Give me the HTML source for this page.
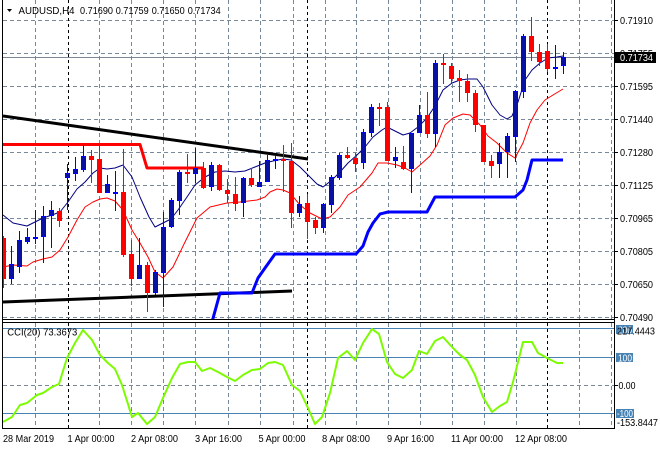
<!DOCTYPE html>
<html><head><meta charset="utf-8"><style>
html,body{margin:0;padding:0;background:#fff;}
svg{display:block;}
text{font-family:"Liberation Sans",Arial,sans-serif;font-size:10px;fill:#000;}
</style></head><body>
<svg width="660" height="450" viewBox="0 0 660 450" xmlns="http://www.w3.org/2000/svg">
<defs>
<clipPath id="cm"><rect x="3" y="0" width="611" height="319"/></clipPath>
<clipPath id="cc"><rect x="3" y="323" width="611" height="105"/></clipPath>
</defs>
<rect width="660" height="450" fill="#fff"/>

<g stroke="#778899" stroke-width="1" stroke-dasharray="4,3" fill="none">
<path d="M35.5 0V319M99.5 0V319M131.5 0V319M163.5 0V319M195.5 0V319M228.5 0V319M260.5 0V319M293.5 0V319M325.5 0V319M356.5 0V319M388.5 0V319M420.5 0V319M452.5 0V319M484.5 0V319M516.5 0V319M579.5 0V319M611.5 0V319"/>
<path d="M3 20.5H614M3 53.5H614M3 86.5H614M3 119.5H614M3 152.5H614M3 185.5H614M3 218.5H614M3 251.5H614M3 284.5H614M3 317.5H614"/>
<path d="M35.5 323V428M99.5 323V428M131.5 323V428M163.5 323V428M195.5 323V428M228.5 323V428M260.5 323V428M293.5 323V428M325.5 323V428M356.5 323V428M388.5 323V428M420.5 323V428M452.5 323V428M484.5 323V428M516.5 323V428M579.5 323V428M611.5 323V428"/>
<path d="M3 385.5H614"/>
</g>
<g stroke="#000" stroke-width="1" stroke-dasharray="3,3" fill="none">
<path d="M68.5 0V319M307.5 0V319M547.5 0V319M68.5 323V428M307.5 323V428M547.5 323V428"/>
</g>

<path d="M3 57.5H614" stroke="#7b8794" stroke-width="1"/>

<g clip-path="url(#cm)" fill="none" stroke-linejoin="round">
<polyline points="3,116 308,159" stroke="#000" stroke-width="3"/>
<polyline points="3,302 292,291" stroke="#000" stroke-width="3"/>
<polyline points="3,144.5 140,144.5 147,168 203,168" stroke="#ff0000" stroke-width="3"/>
<polyline points="212,322 220,293 252,293 258,278 265,268 275,254 356,254 363,246 368,232 373,223 380,214 388,212 427,212 435,197 515,197 523,190 527,180 532,160 563,160" stroke="#0000ff" stroke-width="3"/>
<polyline stroke="#000080" stroke-width="1" points="3,215 13,223 27,226 35,222 43,218 52,215 60,212 68,202 77,189 85,182 93,173 100,168 107,169 115,168 123,165 132,177 140,197 149,217 155,227 163,223 171,219 178,210 187,197 195,185 205,177 215,172 225,171 235,172 245,171 255,167 265,163 273,161 283,159 291,160 300,167 308,175 317,184 323,187 332,180 340,172 348,163 357,155 365,147 373,137 382,130 387,127 393,130 403,135 410,133 418,127 427,118 435,106 443,90 452,83 460,80 468,79 477,79 483,87 492,105 500,115 507,119 512,116 518,102 525,80 532,70 540,63 548,58 557,57 563,56"/>
<polyline stroke="#ff0000" stroke-width="1" points="3,267 13,265 27,266 33,262 43,259 52,257 60,250 68,237 77,220 85,207 93,202 100,199 107,198 115,201 123,210 132,230 140,243 148,257 155,272 163,278 173,267 185,242 197,218 210,207 227,203 240,202 257,200 265,197 270,192 277,189 283,190 290,193 300,205 310,213 322,219 330,217 340,207 348,195 360,187 372,173 378,163 387,163 397,165 405,168 412,172 420,165 430,156 437,145 445,125 453,118 463,114 470,115 480,125 488,136 497,143 507,153 515,158 523,143 530,123 537,110 545,100 553,95 563,89"/>
</g>

<g clip-path="url(#cm)">
<g stroke="#ff0000" stroke-width="1">
<path d="M3.5 236V288M59.5 208V227M91.5 150V183M99.5 145V193M123.5 149V257M131.5 240V286M147.5 262V312M187.5 154V183M203.5 162V189M219.5 164V191M227.5 179V203M235.5 177V211M251.5 168V187M283.5 145V192M291.5 143V228M307.5 194V239M315.5 217V234M347.5 147V159M355.5 153V172M379.5 103V126M387.5 102V161M403.5 146V170M427.5 92V138M443.5 54V84M451.5 63V83M459.5 70V102M467.5 74V102M475.5 90V132M483.5 125V162M491.5 155V178M531.5 17V61M539.5 44V66M547.5 44V72"/>
</g>
<g fill="#ff0000">
<rect x="1" y="238" width="5" height="41"/>
<rect x="57" y="211" width="5" height="10"/>
<rect x="89" y="156" width="5" height="4"/>
<rect x="97" y="159" width="5" height="34"/>
<rect x="121" y="192" width="5" height="63"/>
<rect x="129" y="254" width="5" height="25"/>
<rect x="145" y="265" width="5" height="28"/>
<rect x="185" y="172" width="5" height="2"/>
<rect x="201" y="168" width="5" height="20"/>
<rect x="217" y="165" width="5" height="25"/>
<rect x="225" y="190" width="5" height="4"/>
<rect x="233" y="194" width="5" height="10"/>
<rect x="249" y="178" width="5" height="7"/>
<rect x="281" y="159" width="5" height="2"/>
<rect x="289" y="161" width="5" height="52"/>
<rect x="305" y="203" width="5" height="19"/>
<rect x="313" y="220" width="5" height="8"/>
<rect x="345" y="155" width="5" height="3"/>
<rect x="353" y="158" width="5" height="6"/>
<rect x="377" y="107" width="5" height="2"/>
<rect x="385" y="107" width="5" height="54"/>
<rect x="401" y="162" width="5" height="7"/>
<rect x="425" y="115" width="5" height="19"/>
<rect x="441" y="63" width="5" height="2"/>
<rect x="449" y="66" width="5" height="13"/>
<rect x="457" y="78" width="5" height="3"/>
<rect x="465" y="81" width="5" height="12"/>
<rect x="473" y="93" width="5" height="32"/>
<rect x="481" y="125" width="5" height="37"/>
<rect x="489" y="161" width="5" height="5"/>
<rect x="529" y="36" width="5" height="16"/>
<rect x="537" y="52" width="5" height="10"/>
<rect x="545" y="51" width="5" height="18"/>
</g>
<g stroke="#0000ff" stroke-width="1">
<path d="M11.5 246V284M19.5 231V273M27.5 228V244M35.5 210V244M43.5 206V263M51.5 201V248M67.5 164V210M75.5 157V181M83.5 145V172M107.5 175V193M115.5 171V211M139.5 238V279M155.5 270V295M163.5 212V307M171.5 198V228M179.5 170V215M195.5 148V183M211.5 162V191M243.5 177V217M259.5 161V187M267.5 155V182M275.5 155V169M299.5 196V217M323.5 203V233M331.5 175V213M339.5 153V180M363.5 129V169M371.5 104V137M395.5 147V168M411.5 133V193M419.5 105V133M435.5 60V147M499.5 143V178M507.5 133V178M515.5 90V162M523.5 34V98M555.5 45V79M563.5 52V74"/>
</g>
<g fill="#0a12a6" stroke="#0000ff" stroke-width="1">
<rect x="9.5" y="264.5" width="4" height="14"/>
<rect x="17.5" y="240.5" width="4" height="26"/>
<rect x="25.5" y="237.5" width="4" height="4"/>
<rect x="33.5" y="237.5" width="4" height="1"/>
<rect x="41.5" y="216.5" width="4" height="20"/>
<rect x="49.5" y="210.5" width="4" height="5"/>
<rect x="65.5" y="173.5" width="4" height="4"/>
<rect x="73.5" y="169.5" width="4" height="4"/>
<rect x="81.5" y="156.5" width="4" height="13"/>
<rect x="105.5" y="184.5" width="4" height="8"/>
<rect x="113.5" y="192.5" width="4" height="1"/>
<rect x="137.5" y="265.5" width="4" height="13"/>
<rect x="153.5" y="272.5" width="4" height="20"/>
<rect x="161.5" y="227.5" width="4" height="45"/>
<rect x="169.5" y="200.5" width="4" height="26"/>
<rect x="177.5" y="172.5" width="4" height="28"/>
<rect x="193.5" y="168.5" width="4" height="5"/>
<rect x="209.5" y="165.5" width="4" height="21"/>
<rect x="241.5" y="178.5" width="4" height="24"/>
<rect x="257.5" y="182.5" width="4" height="4"/>
<rect x="265.5" y="160.5" width="4" height="21"/>
<rect x="273.5" y="159.5" width="4" height="1"/>
<rect x="297.5" y="204.5" width="4" height="8"/>
<rect x="321.5" y="204.5" width="4" height="23"/>
<rect x="329.5" y="177.5" width="4" height="27"/>
<rect x="337.5" y="155.5" width="4" height="22"/>
<rect x="361.5" y="132.5" width="4" height="30"/>
<rect x="369.5" y="107.5" width="4" height="25"/>
<rect x="393.5" y="157.5" width="4" height="3"/>
<rect x="409.5" y="133.5" width="4" height="35"/>
<rect x="417.5" y="115.5" width="4" height="17"/>
<rect x="433.5" y="63.5" width="4" height="70"/>
<rect x="497.5" y="152.5" width="4" height="11"/>
<rect x="505.5" y="136.5" width="4" height="15"/>
<rect x="513.5" y="91.5" width="4" height="45"/>
<rect x="521.5" y="36.5" width="4" height="55"/>
<rect x="553.5" y="67.5" width="4" height="1"/>
<rect x="561.5" y="57.5" width="4" height="8"/>
</g>
</g>

<g stroke="#4682b4" stroke-width="1">
<path d="M3 328.5H614M3 357.5H614M3 413.5H614"/>
</g>
<g clip-path="url(#cc)">
<polyline fill="none" stroke="#7cfc00" stroke-width="2" stroke-linejoin="round" points="3,422 12,417 20,405 27,403 37,395 43,393 52,387 59,384 67,358 75,343 83,330 92,340 100,355 108,363 115,369 122,385 132,417 138,413 147,424 155,417 163,398 172,378 180,364 188,362 195,362 202,371 210,368 218,372 227,377 235,381 243,375 252,370 260,369 268,363 275,362 283,365 292,385 300,391 308,408 315,424 322,417 330,393 338,358 347,351 355,360 363,343 372,329 379,334 387,362 395,374 403,378 412,370 419,351 427,354 435,341 443,337 452,347 460,355 467,360 475,375 483,397 492,412 500,406 507,402 513,382 523,342 532,342 538,353 547,358 557,363 563,363"/>
</g>

<g stroke="#000" stroke-width="1" fill="none">
<path d="M2.5 0V429M614.5 0V429M2 319.5H615M2 322.5H615M2 428.5H615"/>
<path d="M614 20.5h4M614 53.5h4M614 86.5h4M614 119.5h4M614 152.5h4M614 185.5h4M614 218.5h4M614 251.5h4M614 284.5h4M614 317.5h4M614 385.5h4"/>
</g>

<polygon points="7,9 12,9 9.5,12" fill="#000"/>
<text x="18.5" y="14" textLength="56" lengthAdjust="spacingAndGlyphs">AUDUSD,H4</text>
<text x="80" y="14" textLength="33" lengthAdjust="spacingAndGlyphs">0.71690</text>
<text x="115.7" y="14" textLength="33" lengthAdjust="spacingAndGlyphs">0.71759</text>
<text x="151.7" y="14" textLength="33" lengthAdjust="spacingAndGlyphs">0.71650</text>
<text x="187.7" y="14" textLength="33" lengthAdjust="spacingAndGlyphs">0.71734</text>

<g>
<text x="620" y="24" textLength="33" lengthAdjust="spacingAndGlyphs">0.71910</text>
<text x="620" y="57" textLength="33" lengthAdjust="spacingAndGlyphs">0.71755</text>
<rect x="615" y="52" width="41" height="11" fill="#000"/>
<text x="620" y="61" style="fill:#fff" textLength="33" lengthAdjust="spacingAndGlyphs">0.71734</text>
<text x="620" y="90" textLength="33" lengthAdjust="spacingAndGlyphs">0.71595</text>
<text x="620" y="123" textLength="33" lengthAdjust="spacingAndGlyphs">0.71440</text>
<text x="620" y="156" textLength="33" lengthAdjust="spacingAndGlyphs">0.71280</text>
<text x="620" y="189" textLength="33" lengthAdjust="spacingAndGlyphs">0.71125</text>
<text x="620" y="222" textLength="33" lengthAdjust="spacingAndGlyphs">0.70965</text>
<text x="620" y="255" textLength="33" lengthAdjust="spacingAndGlyphs">0.70805</text>
<text x="620" y="288" textLength="33" lengthAdjust="spacingAndGlyphs">0.70650</text>
<text x="620" y="321" textLength="33" lengthAdjust="spacingAndGlyphs">0.70490</text>
</g>

<text x="7.3" y="335.5" textLength="70" lengthAdjust="spacingAndGlyphs">CCI(20) 73.3673</text>
<rect x="616" y="325" width="17" height="9" fill="#4682b4"/>
<text x="618" y="333.5" style="fill:#fff" textLength="14" lengthAdjust="spacingAndGlyphs">200</text>
<text x="617" y="334.5" textLength="38" lengthAdjust="spacingAndGlyphs">217.4443</text>
<rect x="616" y="353" width="17" height="9" fill="#4682b4"/>
<text x="618" y="361.5" style="fill:#fff" textLength="14" lengthAdjust="spacingAndGlyphs">100</text>
<text x="618.5" y="389" textLength="17" lengthAdjust="spacingAndGlyphs">0.00</text>
<rect x="616" y="409" width="18" height="9" fill="#4682b4"/>
<text x="617" y="417" style="fill:#fff" textLength="16" lengthAdjust="spacingAndGlyphs">-100</text>
<text x="617" y="426" textLength="41" lengthAdjust="spacingAndGlyphs">-153.8447</text>

<text x="3" y="442" textLength="51" lengthAdjust="spacingAndGlyphs">28 Mar 2019</text>
<text x="67.5" y="442" textLength="47" lengthAdjust="spacingAndGlyphs">1 Apr 00:00</text>
<text x="131" y="442" textLength="47" lengthAdjust="spacingAndGlyphs">2 Apr 08:00</text>
<text x="195" y="442" textLength="47" lengthAdjust="spacingAndGlyphs">3 Apr 16:00</text>
<text x="258.5" y="442" textLength="47" lengthAdjust="spacingAndGlyphs">5 Apr 00:00</text>
<text x="322" y="442" textLength="48" lengthAdjust="spacingAndGlyphs">8 Apr 08:00</text>
<text x="387" y="442" textLength="47" lengthAdjust="spacingAndGlyphs">9 Apr 16:00</text>
<text x="451" y="442" textLength="52" lengthAdjust="spacingAndGlyphs">11 Apr 00:00</text>
<text x="515" y="442" textLength="52" lengthAdjust="spacingAndGlyphs">12 Apr 08:00</text>
</svg>
</body></html>
